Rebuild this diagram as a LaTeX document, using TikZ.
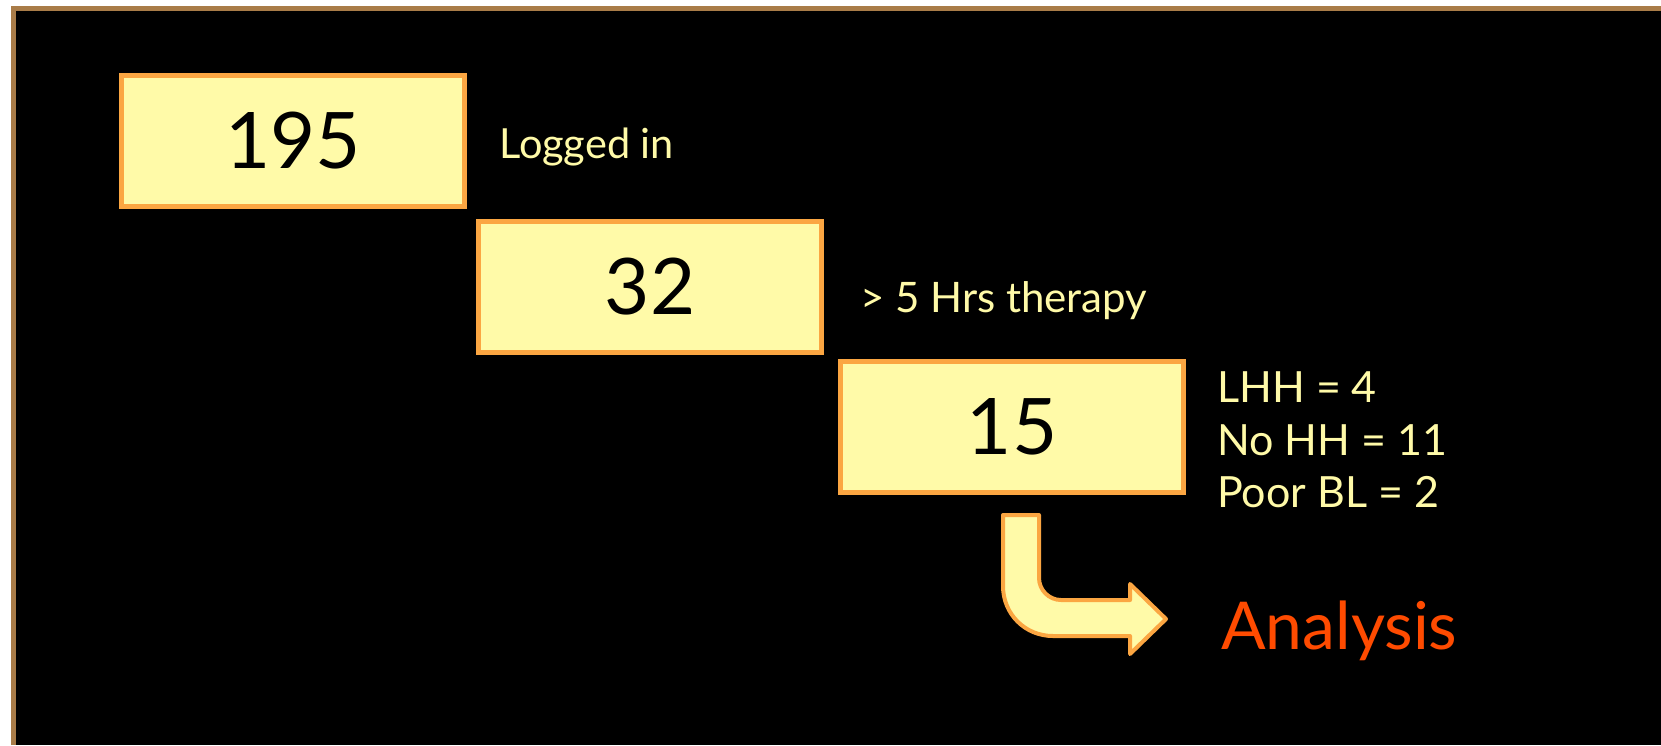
\documentclass[tikz,border=0pt]{standalone}
\usepackage{fontspec}
\setmainfont{Lato}
\usetikzlibrary{positioning}
\definecolor{boxfill}{HTML}{FFFAA8}
\definecolor{boxline}{HTML}{FBA642}
\definecolor{frameline}{HTML}{A97C48}
\definecolor{hilite}{HTML}{FF4B00}
\begin{document}
\begin{tikzpicture}[x=1pt,y=-1pt,
    countbox/.style={draw=boxline, fill=boxfill, line width=5pt, minimum width=343pt,
        minimum height=131pt, inner sep=0pt, font=\fontsize{78}{90}\selectfont},
    note/.style={anchor=base west, inner sep=0pt, text=boxfill, font=\fontsize{43}{52}\selectfont}]
\useasboundingbox (0,0) rectangle (1661,745);
\fill[white] (0,0) rectangle (1661,745);
\fill[black] (13.5,8.5) rectangle (1661,745);
\draw[frameline, line width=5pt] (13.5,745) -- (13.5,8.5) -- (1661,8.5);
% counts
\node[countbox] (n195) at (293,140.5) {195};
\node[countbox] (n32) at (650,287) {32};
\node[countbox] (n15) at (1012,427) {15};
% labels
\node[note, font=\fontsize{41.5}{50}\selectfont] (logged) at (499,158) {Logged in};
\node[note, font=\fontsize{42}{50}\selectfont] (hrs) at (860,312) {> 5 Hrs therapy};
\node[note] (lhh) at (1217,402) {LHH = 4};
\node[note] (nohh) at (1217,455) {No HH = 11};
\node[note] (poorbl) at (1217,507) {Poor BL = 2};
% bent arrow
\draw[boxline, fill=boxfill, line width=4pt, line join=round]
    (1003,515) -- (1039,515) -- (1039,578) .. controls (1039,590) and (1049,600) .. (1061,600)
    -- (1130,600) -- (1130,584) -- (1166,619) -- (1130,654) -- (1130,636) -- (1053,636)
    .. controls (1025,636) and (1003,614) .. (1003,586) -- cycle;
\node[note, text=hilite, font=\fontsize{66}{78}\selectfont] (analysis) at (1221,649) {Analysis};
\end{tikzpicture}
\end{document}
